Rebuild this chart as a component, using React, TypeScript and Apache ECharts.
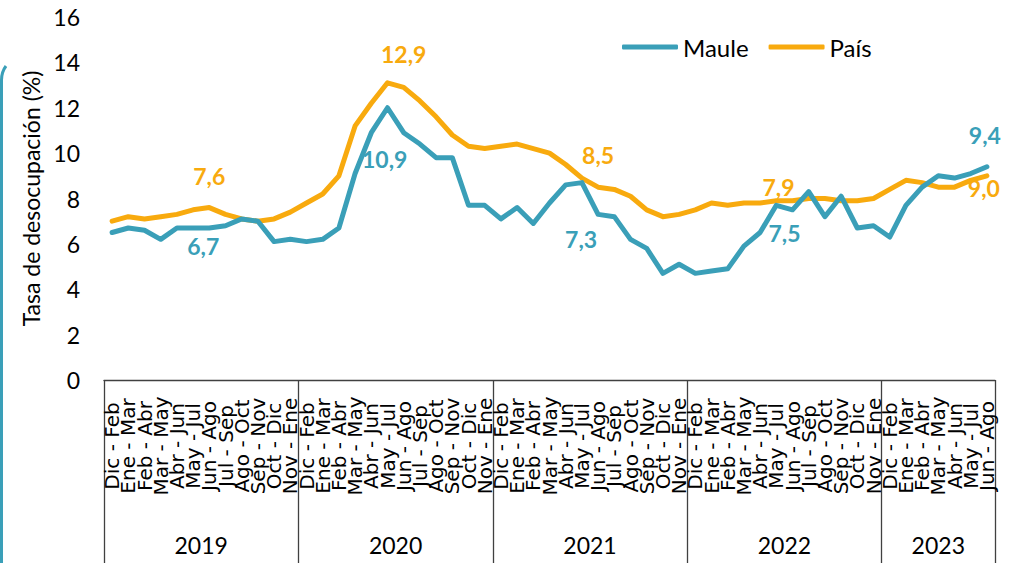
import React, { useEffect, useRef } from "react";
import * as echarts from "echarts";

// Rolling quarters (trimestres móviles)
const periods = [
  "Dic - Feb", "Ene - Mar", "Feb - Abr", "Mar - May", "Abr - Jun", "May - Jul",
  "Jun - Ago", "Jul - Sep", "Ago - Oct", "Sep - Nov", "Oct - Dic", "Nov - Ene",
];
const years = ["2019", "2020", "2021", "2022", "2023"];
const periodsPerYear = [12, 12, 12, 12, 7];

const maule = [
  6.5, 6.7, 6.6, 6.2, 6.7, 6.7, 6.7, 6.8, 7.1, 7.0, 6.1, 6.2,
  6.1, 6.2, 6.7, 9.1, 10.9, 12.0, 10.9, 10.4, 9.8, 9.8, 7.7, 7.7,
  7.1, 7.6, 6.9, 7.8, 8.6, 8.7, 7.3, 7.2, 6.2, 5.8, 4.7, 5.1,
  4.7, 4.8, 4.9, 5.9, 6.5, 7.7, 7.5, 8.3, 7.2, 8.1, 6.7, 6.8,
  6.3, 7.7, 8.5, 9.0, 8.9, 9.1, 9.4,
];
const pais = [
  7.0, 7.2, 7.1, 7.2, 7.3, 7.5, 7.6, 7.3, 7.1, 7.0, 7.1, 7.4,
  7.8, 8.2, 9.0, 11.2, 12.2, 13.1, 12.9, 12.3, 11.6, 10.8, 10.3, 10.2,
  10.3, 10.4, 10.2, 10.0, 9.5, 8.9, 8.5, 8.4, 8.1, 7.5, 7.2, 7.3,
  7.5, 7.8, 7.7, 7.8, 7.8, 7.9, 7.9, 8.0, 8.0, 7.9, 7.9, 8.0,
  8.4, 8.8, 8.7, 8.5, 8.5, 8.8, 9.0,
];

const Y_MIN = 0;
const Y_MAX = 16;
const Y_STEP = 2;

const TEAL = "#3A9FB8";
const ORANGE = "#F8AA0E";
const AXIS = "#404040";
const FONT = "Lato, 'Noto Sans', sans-serif";

// label offsets (center of label relative to the point), keyed by category index
const mauleLabelOffsets: Record<number, [number, number]> = {
  6: [-6, 18],
  18: [-19, 26],
  30: [-17, 25],
  42: [-8, 23],
  54: [-2, -32],
};
const paisLabelOffsets: Record<number, [number, number]> = {
  6: [0, -32],
  18: [0, -33],
  30: [0, -32],
  42: [-14, -14],
  54: [-3, 12],
};

function buildCategories() {
  const cats: string[] = [];
  years.forEach((_, k) => {
    for (let i = 0; i < periodsPerYear[k]; i++) cats.push(periods[i]);
  });
  return cats;
}

function yearStarts() {
  const starts: number[] = [];
  let acc = 0;
  periodsPerYear.forEach((n) => {
    starts.push(acc);
    acc += n;
  });
  return starts;
}

function seriesData(values: number[], offsets: Record<number, [number, number]>, color: string) {
  return values.map((v, i) => {
    const off = offsets[i];
    if (!off) return v;
    return {
      value: v,
      label: {
        show: true,
        position: "inside",
        offset: off,
        color,
        fontFamily: FONT,
        fontWeight: "bold",
        fontSize: 23,
        formatter: (p: any) => Number(p.value).toFixed(1).replace(".", ","),
      },
    };
  });
}

export default function App() {
  const ref = useRef<HTMLDivElement>(null);

  useEffect(() => {
    if (!ref.current) return;
    const chart = echarts.init(ref.current, undefined, { renderer: "svg" });
    const categories = buildCategories();
    const starts = yearStarts();
    const centers = starts.map((s, k) => s + periodsPerYear[k] / 2);
    const total = categories.length;

    chart.setOption({
      animation: false,
      backgroundColor: "#ffffff",
      grid: { left: 104, right: 24, top: 17, bottom: 183, containLabel: false },
      legend: {
        data: ["Maule", "País"],
        left: 617,
        top: 30,
        icon: "roundRect",
        itemWidth: 56,
        itemHeight: 5,
        itemGap: 20,
        textStyle: { fontFamily: FONT, fontSize: 24, color: "#000" },
      },
      xAxis: [
        {
          type: "category",
          data: categories,
          boundaryGap: true,
          position: "bottom",
          axisLine: { show: true, lineStyle: { color: AXIS, width: 1.3 } },
          axisTick: { show: false },
          axisLabel: {
            interval: 0,
            rotate: 90,
            align: "center",
            verticalAlign: "middle",
            margin: 66,
            fontFamily: "'DejaVu Sans', sans-serif",
            fontSize: 20,
            color: "#000",
          },
          splitLine: { show: false },
        },
        {
          type: "category",
          data: categories,
          boundaryGap: true,
          position: "bottom",
          axisLine: { show: false },
          axisTick: {
            show: true,
            interval: (i: number) => starts.indexOf(i) >= 0,
            length: 185,
            lineStyle: { color: AXIS, width: 1.3 },
          },
          axisLabel: { show: false },
          splitLine: { show: false },
        },
        {
          type: "value",
          min: 0,
          max: total,
          interval: 0.5,
          position: "bottom",
          axisLine: { show: false },
          axisTick: { show: false },
          splitLine: { show: false },
          axisLabel: {
            margin: 153,
            fontFamily: FONT,
            fontSize: 23,
            color: "#000",
            formatter: (v: number) => {
              const k = centers.findIndex((c) => Math.abs(c - v) < 1e-6);
              return k >= 0 ? years[k] : "";
            },
          },
        },
      ],
      yAxis: {
        type: "value",
        min: Y_MIN,
        max: Y_MAX,
        interval: Y_STEP,
        axisLine: { show: false },
        axisTick: { show: false },
        splitLine: { show: false },
        axisLabel: { margin: 24, fontFamily: FONT, fontSize: 23, color: "#000" },
        name: "Tasa de desocupación (%)",
        nameLocation: "middle",
        nameGap: 62,
        nameTextStyle: { fontFamily: FONT, fontSize: 23, color: "#000" },
      },
      series: [
        {
          name: "Maule",
          type: "line",
          xAxisIndex: 0,
          data: seriesData(maule, mauleLabelOffsets, TEAL),
          symbol: "circle",
          symbolSize: 2,
          showSymbol: true,
          showAllSymbol: true,
          itemStyle: { color: TEAL },
          lineStyle: { color: TEAL, width: 5, join: "round", cap: "round" },
          emphasis: { disabled: true },
          z: 3,
        },
        {
          name: "País",
          type: "line",
          xAxisIndex: 0,
          data: seriesData(pais, paisLabelOffsets, ORANGE),
          symbol: "circle",
          symbolSize: 2,
          showSymbol: true,
          showAllSymbol: true,
          itemStyle: { color: ORANGE },
          lineStyle: { color: ORANGE, width: 5, join: "round", cap: "round" },
          emphasis: { disabled: true },
          z: 2,
        },
      ],
      graphic: [
        {
          type: "line",
          shape: { x1: 1.5, y1: 563, x2: 1.5, y2: 80 },
          style: { stroke: TEAL, lineWidth: 3 },
          silent: true,
        },
        {
          type: "bezierCurve",
          shape: { x1: 1.5, y1: 80, cpx1: 1.5, cpy1: 72, x2: 6, y2: 66 },
          style: { stroke: TEAL, lineWidth: 3, fill: "none" },
          silent: true,
        },
      ],
    });

    return () => chart.dispose();
  }, []);

  return (
    <div
      ref={ref}
      style={{ position: "fixed", left: 0, top: 0, width: 1019, height: 563, background: "#fff" }}
    />
  );
}
